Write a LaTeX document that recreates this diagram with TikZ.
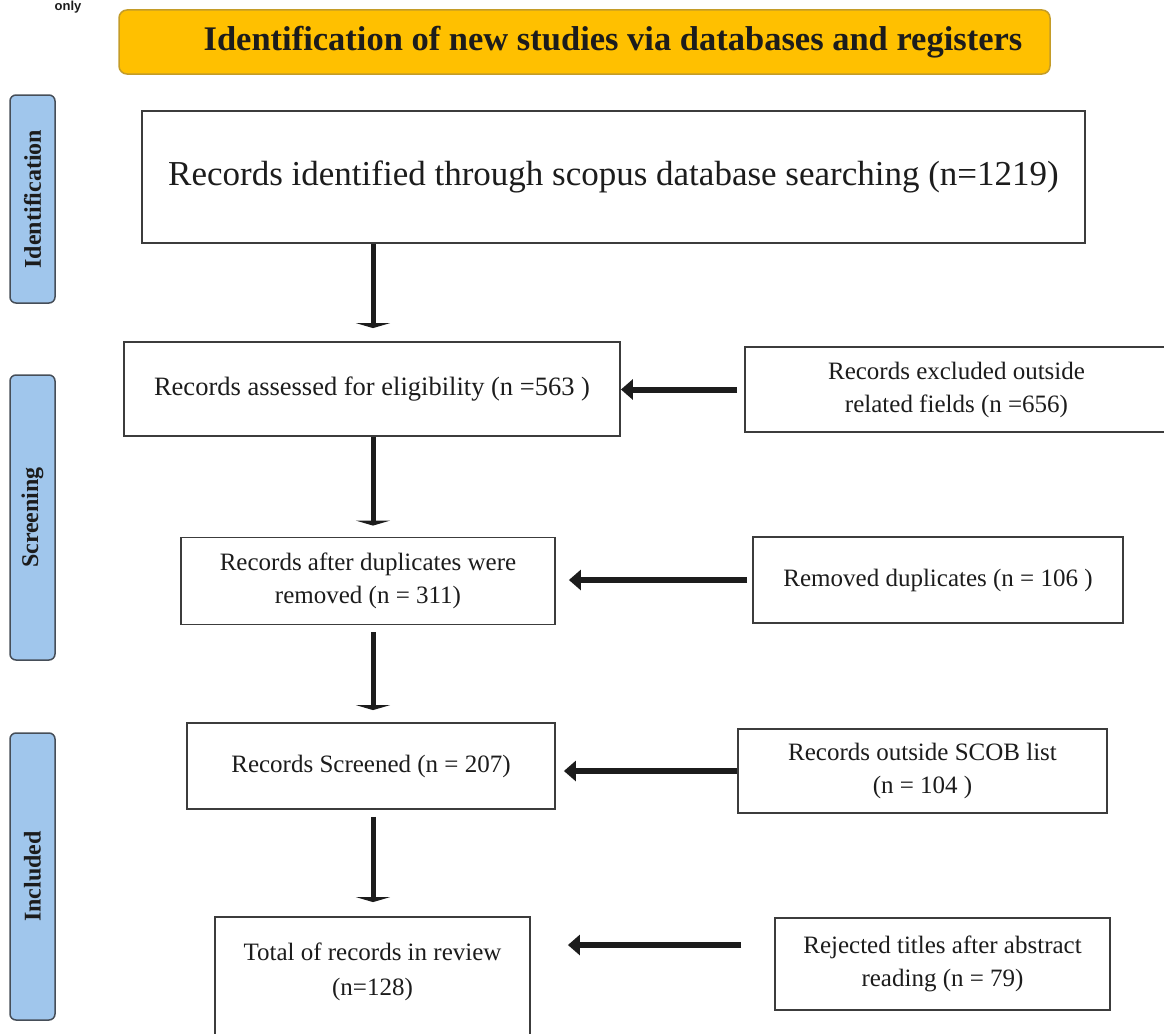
\documentclass[tikz,border=0pt]{standalone}
\usepackage{fontspec}
\setmainfont{Liberation Serif}
\newfontfamily\labelsans{Liberation Sans}
\usetikzlibrary{arrows.meta}
\definecolor{hdrfill}{RGB}{255,192,0}
\definecolor{hdredge}{RGB}{196,156,40}
\definecolor{barfill}{RGB}{160,198,236}
\definecolor{baredge}{RGB}{70,78,88}
\definecolor{boxedge}{RGB}{60,60,60}
\definecolor{ink}{RGB}{28,28,28}
\begin{document}
\begin{tikzpicture}[x=1pt,y=-1pt,
  flowbox/.style={draw=boxedge, line width=1.8pt, fill=white, inner sep=0pt,
    align=center, text=ink, font=\fontsize{25}{33}\selectfont},
  phasebar/.style={draw=baredge, fill=barfill, line width=1.5pt,
    rounded corners=6pt, minimum width=45pt, inner sep=0pt},
  phasetext/.style={rotate=90, font=\bfseries\fontsize{24}{24}\selectfont, text=ink},
  downarrow/.style={draw=ink, line width=5pt, -{Triangle[width=34pt,length=5pt]}},
  sidearrow/.style={draw=ink, line width=6pt, -{Triangle[width=20pt,length=12pt]}},
]
\useasboundingbox (0,0) rectangle (1164,1033);

% small caption word at the top edge
\node[anchor=base, font=\labelsans\bfseries\fontsize{13}{13}\selectfont, text=ink, inner sep=0pt] (frag) at (68,11) {only};

% header banner
\node[draw=hdredge, fill=hdrfill, line width=1.5pt, rounded corners=8pt,
  minimum width=931pt, minimum height=64pt, inner sep=0pt] (hdr) at (584.5,42) {};
\node[font=\bfseries\fontsize{34.5}{34.5}\selectfont, text=ink, inner sep=0pt] (hdrtext) at (613,42)
  {Identification of new studies via databases and registers};

% phase bars
\node[phasebar, minimum height=208pt] (pid) at (32.5,199) {};
\node[phasetext] (pidt) at (pid) {Identification};
\node[phasebar, minimum height=285pt] (pscr) at (32.5,517.5) {};
\node[phasetext] (pscrt) at (pscr) {Screening};
\node[phasebar, minimum height=287pt] (pinc) at (32.5,876.5) {};
\node[phasetext] (pinct) at (pinc) {Included};

% main column
\node[flowbox, minimum width=943pt, minimum height=132pt, font=\fontsize{35}{40}\selectfont]
  (b1) at (613.5,177) {Records identified through scopus database searching (n=1219)};
\node[flowbox, minimum width=496pt, minimum height=94pt, font=\fontsize{26.5}{33}\selectfont]
  (b2) at (372,389) {Records assessed for eligibility (n =563 )};
\node[flowbox, minimum width=374pt, minimum height=87pt]
  (b3) at (368,581) {Records after duplicates were\\removed (n = 311)};
\node[flowbox, minimum width=368pt, minimum height=86pt]
  (b4) at (371,766) {Records Screened (n = 207)};
\node[flowbox, minimum width=315pt, minimum height=128pt]
  (b5) at (372.5,981) {};
\node[align=center, text=ink, font=\fontsize{25}{35}\selectfont, inner sep=0pt]
  (b5t) at (372.5,972) {Total of records in review\\(n=128)};

% exclusion column
\node[flowbox, minimum width=423pt, minimum height=85pt]
  (r2) at (956.5,389.5) {Records excluded outside\\related fields (n =656)};
\node[flowbox, minimum width=370pt, minimum height=86pt]
  (r3) at (938,580) {Removed duplicates (n = 106 )};
\node[flowbox, minimum width=369pt, minimum height=84pt]
  (r4) at (922.5,771) {Records outside SCOB list\\(n = 104 )};
\node[flowbox, minimum width=335pt, minimum height=92pt]
  (r5) at (942.5,964) {Rejected titles after abstract\\reading (n = 79)};

% flow arrows
\coordinate (axis) at (373,0);
\draw[downarrow, shorten >=13pt] (b1.south -| axis) -- (b2.north -| axis);
\draw[downarrow, shorten >=11pt] (b2.south -| axis) -- (b3.north -| axis);
\draw[downarrow, shorten <=7pt, shorten >=12pt] (b3.south -| axis) -- (b4.north -| axis);
\draw[downarrow, shorten <=7pt, shorten >=14pt] (b4.south -| axis) -- (b5.north -| axis);

\draw[sidearrow, shorten <=7pt] (r2.west) -- (r2.west -| b2.east);
\draw[sidearrow, shorten <=5pt, shorten >=13pt] (r3.west) -- (r3.west -| b3.east);
\draw[sidearrow, shorten >=8pt] (r4.west) -- (r4.west -| b4.east);
\draw[sidearrow, shorten <=33pt, shorten >=37pt] ([yshift=19pt]r5.west) -- ([yshift=19pt]r5.west -| b5.east);
\end{tikzpicture}
\end{document}
